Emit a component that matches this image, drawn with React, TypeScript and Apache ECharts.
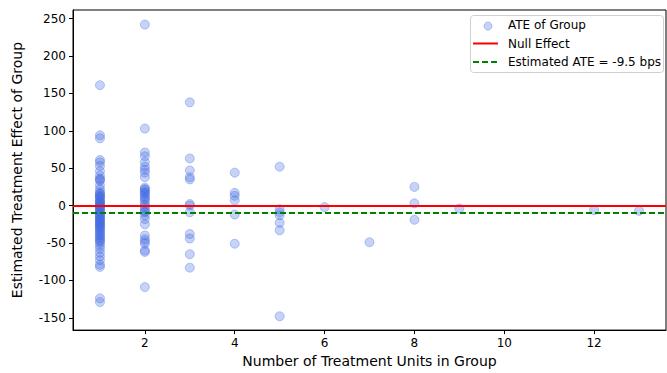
import React, { useEffect, useRef } from "react";
import * as echarts from "echarts";

const groupSizes = [1, 2, 3, 4, 5, 6, 7, 8, 9, 12, 13];
const effectsSize1 = [161, 94, 90, 61, 58, 53, 46, 40, 36, 35, 33, 27, 22, 18, 16, 15, 13, 12, 10, 9, 6, 5, 4, 2, 1, 0, -1, -2, -3, -4, -6, -8, -9, -11, -12, -14, -15, -17, -18, -20, -21, -23, -24, -26, -27, -29, -30, -32, -34, -36, -38, -40, -42, -44, -46, -48, -50, -54, -58, -63, -68, -73, -79, -82, -124, -129];
const effectsSize2 = [242, 103, 71, 66, 58, 52, 48, 44, 38, 24, 22, 21, 18, 17, 15, 12, 10, 8, 4, 1, -2, -5, -8, -9, -13, -18, -25, -40, -45, -48, -51, -60, -62, -109];
const effectsSize3 = [138, 63, 47, 38, 35, 2, 0, -9, -38, -44, -65, -83];
const effectsSize4 = [44, 17, 13, 7, -12, -51];
const effectsSize5 = [52, -5, -9, -13, -23, -33, -148];
const effectsSize6 = [-2];
const effectsSize7 = [-49];
const effectsSize8 = [25, 3, -19];
const effectsSize9 = [-4];
const effectsSize12 = [-6];
const effectsSize13 = [-7];
const effectsByGroup = [effectsSize1, effectsSize2, effectsSize3, effectsSize4, effectsSize5, effectsSize6, effectsSize7, effectsSize8, effectsSize9, effectsSize12, effectsSize13];

const nullEffect = 0;
const estimatedATE = -9.5;
const xTicks = [2, 4, 6, 8, 10, 12];
const yTicks = [-150, -100, -50, 0, 50, 100, 150, 200, 250];

const FONT = "DejaVu Sans";

export default function App() {
  const ref = useRef<HTMLDivElement>(null);
  useEffect(() => {
    if (!ref.current) return;
    const chart = echarts.init(ref.current, null, { renderer: "svg" });
    const points: number[][] = [];
    groupSizes.forEach((g, i) => effectsByGroup[i].forEach((v) => points.push([g, v])));
    const axisCommon = {
      type: "value" as const,
      axisLine: { show: true, onZero: false, lineStyle: { color: "#000", width: 1 } },
      axisTick: { show: true, inside: false, length: 4, lineStyle: { color: "#000" } },
      splitLine: { show: false },
    };
    chart.setOption({
      animation: false,
      grid: { left: 73, right: 1, top: 10, bottom: 41, show: true, borderColor: "#000", borderWidth: 1, backgroundColor: "transparent" },
      xAxis: {
        ...axisCommon,
        min: 0.4,
        max: 13.6,
        axisTick: { ...axisCommon.axisTick, customValues: xTicks },
        axisLabel: { customValues: xTicks, color: "#000", fontFamily: FONT, fontSize: 12, margin: 7 },
        name: "Number of Treatment Units in Group",
        nameLocation: "middle",
        nameGap: 23,
        nameTextStyle: { fontFamily: FONT, fontSize: 14, color: "#000" },
      },
      yAxis: {
        ...axisCommon,
        min: -166.5,
        max: 261.5,
        axisTick: { ...axisCommon.axisTick, customValues: yTicks },
        axisLabel: { customValues: yTicks, color: "#000", fontFamily: FONT, fontSize: 12, margin: 7 },
        name: "Estimated Treatment Effect of Group",
        nameLocation: "middle",
        nameGap: 49,
        nameRotate: 90,
        nameTextStyle: { fontFamily: FONT, fontSize: 14, color: "#000" },
      },
      series: [
        {
          type: "scatter",
          name: "ATE of Group",
          data: points,
          symbol: "circle",
          symbolSize: 9,
          itemStyle: { color: "rgba(65,105,225,0.3)", borderColor: "rgba(65,105,225,0.35)", borderWidth: 1, opacity: 1 },
          markLine: {
            silent: true,
            symbol: "none",
            label: { show: false },
            data: [
              { yAxis: nullEffect, lineStyle: { color: "#ff0000", width: 2, type: "solid" } },
              { yAxis: estimatedATE, lineStyle: { color: "#008000", width: 2, type: [6, 3] } },
            ],
          },
          z: 3,
        },
      ],
      graphic: [
        { type: "rect", shape: { x: 470.5, y: 15.5, width: 193, height: 57, r: 3 }, style: { fill: "rgba(255,255,255,0.8)", stroke: "#d0d0d0", lineWidth: 1 }, z: 10 },
        { type: "circle", shape: { cx: 488, cy: 26, r: 4 }, style: { fill: "rgba(65,105,225,0.3)", stroke: "rgba(65,105,225,0.35)", lineWidth: 1 }, z: 11 },
        { type: "line", shape: { x1: 473, y1: 43.5, x2: 498, y2: 43.5 }, style: { stroke: "#ff0000", lineWidth: 2 }, z: 11 },
        { type: "line", shape: { x1: 473, y1: 62, x2: 498, y2: 62 }, style: { stroke: "#008000", lineWidth: 2, lineDash: [6, 3] }, z: 11 },
        { type: "text", x: 508, y: 25, style: { text: "ATE of Group", fontFamily: FONT, fontSize: 12, fill: "#000", verticalAlign: "middle" }, z: 11 },
        { type: "text", x: 508, y: 43.5, style: { text: "Null Effect", fontFamily: FONT, fontSize: 12, fill: "#000", verticalAlign: "middle" }, z: 11 },
        { type: "text", x: 508, y: 62, style: { text: "Estimated ATE = -9.5 bps", fontFamily: FONT, fontSize: 12, fill: "#000", verticalAlign: "middle" }, z: 11 },
      ],
    });
    return () => chart.dispose();
  }, []);
  return <div ref={ref} style={{ position: "fixed", left: 0, top: 0, width: 667, height: 373, background: "#fff" }} />;
}
